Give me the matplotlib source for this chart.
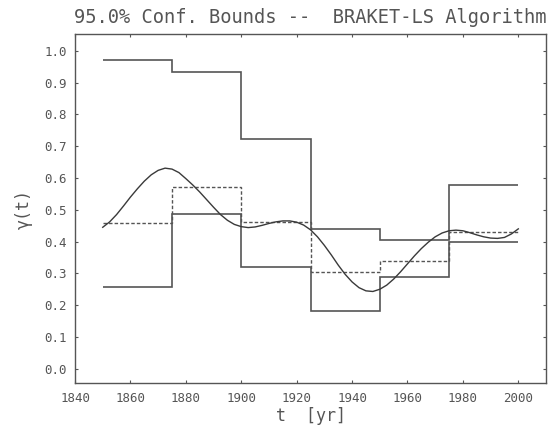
"""
Recreate the 95% confidence-bound plot (BRAKET-LS algorithm).
"""

import matplotlib

matplotlib.use("Agg")
import matplotlib.pyplot as plt

# step intervals (years)
edges = [1850, 1875, 1900, 1925, 1950, 1975, 2000]
# upper / lower 95% bounds and the estimate (dashed) per interval
upper = [0.972, 0.935, 0.723, 0.439, 0.406, 0.578]
lower = [0.258, 0.488, 0.321, 0.183, 0.289, 0.400]
estimate = [0.457, 0.572, 0.462, 0.303, 0.340, 0.429]

# true gamma(t) curve
curve_t = [
    1850, 1852.5, 1855, 1857.5, 1860, 1862.5, 1865, 1867.5, 1870, 1872.5,
    1875, 1877.5, 1880, 1882.5, 1885, 1887.5, 1890, 1892.5, 1895, 1897.5,
    1900, 1902.5, 1905, 1907.5, 1910, 1912.5, 1915, 1917.5, 1920, 1922.5,
    1925, 1927.5, 1930, 1932.5, 1935, 1937.5, 1940, 1942.5, 1945, 1947.5,
    1950, 1952.5, 1955, 1957.5, 1960, 1962.5, 1965, 1967.5, 1970, 1972.5,
    1975, 1977.5, 1980, 1982.5, 1985, 1987.5, 1990, 1992.5, 1995, 1997.5,
    2000,
]
curve_g = [
    0.445, 0.462, 0.485, 0.512, 0.540, 0.566, 0.590, 0.610, 0.624, 0.631,
    0.628, 0.617, 0.598, 0.578, 0.556, 0.532, 0.508, 0.485, 0.467, 0.454,
    0.447, 0.444, 0.446, 0.451, 0.457, 0.462, 0.465, 0.465, 0.461, 0.452,
    0.437, 0.415, 0.388, 0.358, 0.326, 0.297, 0.273, 0.255, 0.245, 0.243,
    0.250, 0.263, 0.282, 0.305, 0.330, 0.355, 0.378, 0.398, 0.415, 0.427,
    0.434, 0.436, 0.434, 0.428, 0.421, 0.415, 0.411, 0.410, 0.413, 0.424,
    0.440,
]

x_ticks = [1840, 1860, 1880, 1900, 1920, 1940, 1960, 1980, 2000]
y_ticks = [0.0, 0.1, 0.2, 0.3, 0.4, 0.5, 0.6, 0.7, 0.8, 0.9, 1.0]

INK = "#555555"
MONO = ["DejaVu Sans Mono", "DejaVu Sans"]

fig = plt.figure(figsize=(5.57, 4.25), dpi=100)
ax = fig.add_axes([0.1347, 0.098, 0.8456, 0.822])

ax.stairs(upper, edges, baseline=None, color=INK, linewidth=1.2)
ax.stairs(lower, edges, baseline=None, color=INK, linewidth=1.2)
ax.stairs(estimate, edges, baseline=None, color=INK, linewidth=1.0,
          linestyle=(0, (2.5, 1.5)))
ax.plot(curve_t, curve_g, color="#3a3a3a", linewidth=1.0)

ax.set_xlim(1840, 2010)
ax.set_ylim(-0.046, 1.053)
ax.set_xticks(x_ticks)
ax.set_yticks(y_ticks)
ax.set_xticklabels([str(v) for v in x_ticks], family=MONO, fontsize=9, color=INK)
ax.set_yticklabels([f"{v:.1f}" for v in y_ticks], family=MONO, fontsize=9, color=INK)
ax.tick_params(direction="in", length=2.5, width=0.8, color=INK,
               top=True, right=True, pad=6)

for sp in ax.spines.values():
    sp.set_color(INK)
    sp.set_linewidth(1.0)

ax.set_title("95.0% Conf. Bounds --  BRAKET-LS Algorithm", family=MONO,
             fontsize=13.5, color=INK, pad=8)
ax.set_xlabel("t  [yr]", family=MONO, fontsize=12, color=INK, labelpad=2)
ax.set_ylabel("γ(t)", family=MONO, fontsize=12, color=INK, labelpad=8)

fig.savefig("out.png", dpi=100)
